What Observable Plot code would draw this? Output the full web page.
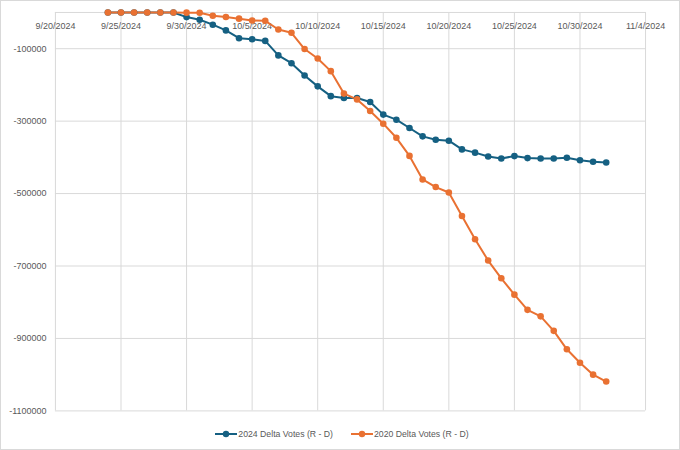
<!DOCTYPE html>
<html>
<head>
<meta charset="utf-8">
<script src="https://cdn.jsdelivr.net/npm/d3@7"></script>
<script src="https://cdn.jsdelivr.net/npm/@observablehq/plot@0.6"></script>
<style>
  html, body { margin: 0; padding: 0; background: #fff; }
  #frame { position: relative; width: 680px; height: 450px; box-sizing: border-box; border: 1px solid #d9d9d9; background: #fff; overflow: hidden; }
  #chart { position: absolute; left: -1px; top: -1px; }
  #legend { position: absolute; left: 1px; top: 427px; width: 680px; display: flex; justify-content: center; gap: 18px;
    font-family: "Liberation Sans", Arial, sans-serif; font-size: 8.7px; line-height: 12px; color: #595959; }
  .item { display: flex; align-items: center; gap: 1px; }
  .item svg { display: block; }
</style>
</head>
<body>
<div id="frame">
  <div id="chart"></div>
  <div id="legend"></div>
</div>
<script>
const dates = [
  "2024-09-24","2024-09-25","2024-09-26","2024-09-27","2024-09-28","2024-09-29","2024-09-30",
  "2024-10-01","2024-10-02","2024-10-03","2024-10-04","2024-10-05","2024-10-06","2024-10-07",
  "2024-10-08","2024-10-09","2024-10-10","2024-10-11","2024-10-12","2024-10-13","2024-10-14",
  "2024-10-15","2024-10-16","2024-10-17","2024-10-18","2024-10-19","2024-10-20","2024-10-21",
  "2024-10-22","2024-10-23","2024-10-24","2024-10-25","2024-10-26","2024-10-27","2024-10-28",
  "2024-10-29","2024-10-30","2024-10-31","2024-11-01"
];
const votes2024 = [
  0, 0, 0, 0, 0, 0, -12700,
  -20000, -33700, -49500, -71000, -74000, -78500, -118500,
  -140000, -174000, -204000, -231000, -236000, -236000, -247000,
  -282000, -296000, -319000, -342000, -351500, -354000, -378000,
  -387000, -397500, -403000, -396500, -402000, -403000, -403000,
  -401000, -408000, -412000, -414000
];
const votes2020 = [
  0, 0, 0, 0, 0, 0, -500,
  -700, -9000, -12500, -17000, -22000, -23000, -47000,
  -56000, -101000, -127000, -162000, -224000, -240000, -272000,
  -307000, -346000, -396000, -461000, -482000, -497000, -562000,
  -626000, -685000, -734000, -779000, -821000, -839000, -879000,
  -930000, -967000, -1000000, -1019000
];
const seriesNames = ["2024 Delta Votes (R - D)", "2020 Delta Votes (R - D)"];
const seriesColors = ["#156082", "#E97132"];
const xTickLabels = ["2024-09-20","2024-09-25","2024-09-30","2024-10-05","2024-10-10","2024-10-15","2024-10-20","2024-10-25","2024-10-30","2024-11-04"];
const yTicks = [-100000, -300000, -500000, -700000, -900000, -1100000];
const yGrid = [0, -100000, -300000, -500000, -700000, -900000, -1100000];

const parse = d3.utcParse("%Y-%m-%d");
const xTicks = xTickLabels.map(parse);
const fmtDate = d => `${d.getUTCMonth() + 1}/${d.getUTCDate()}/${d.getUTCFullYear()}`;

const rows = [];
[votes2024, votes2020].forEach((vals, si) => {
  vals.forEach((v, i) => rows.push({date: parse(dates[i]), value: v, series: seriesNames[si]}));
});

const font = `"Liberation Sans", Arial, sans-serif`;

const chart = Plot.plot({
  width: 680,
  height: 420,
  marginLeft: 55,
  marginRight: 34,
  marginTop: 12,
  marginBottom: 9,
  style: {fontFamily: font, fontSize: "9px", color: "#595959", background: "transparent"},
  x: {type: "utc", domain: [xTicks[0], xTicks[xTicks.length - 1]]},
  y: {domain: [-1100000, 0]},
  color: {domain: seriesNames, range: seriesColors},
  marks: [
    Plot.gridX(xTicks, {stroke: "#d9d9d9", strokeOpacity: 1, strokeWidth: 1}),
    Plot.gridY(yGrid, {stroke: "#d9d9d9", strokeOpacity: 1, strokeWidth: 1}),
    Plot.axisY(yTicks, {tickSize: 0, tickPadding: 9, tickFormat: d => String(d), fill: "#595959", fontSize: 9, label: null}),
    Plot.axisX(xTicks, {anchor: "top", tickSize: 0, tickPadding: 0, dy: 17, tickFormat: fmtDate, fill: "#595959", fontSize: 9, label: null}),
    Plot.line(rows, {x: "date", y: "value", z: "series", stroke: "series", strokeWidth: 2}),
    Plot.dot(rows, {x: "date", y: "value", fill: "series", r: 3.3, stroke: "none"})
  ]
});
document.getElementById("chart").appendChild(chart);

const legend = document.getElementById("legend");
seriesNames.forEach((name, i) => {
  const item = document.createElement("div");
  item.className = "item";
  item.innerHTML = `<svg width="22" height="10"><line x1="0" x2="22" y1="5" y2="5" stroke="${seriesColors[i]}" stroke-width="2"/><circle cx="11" cy="5" r="3.2" fill="${seriesColors[i]}"/></svg><span>${name}</span>`;
  legend.appendChild(item);
});
</script>
</body>
</html>
